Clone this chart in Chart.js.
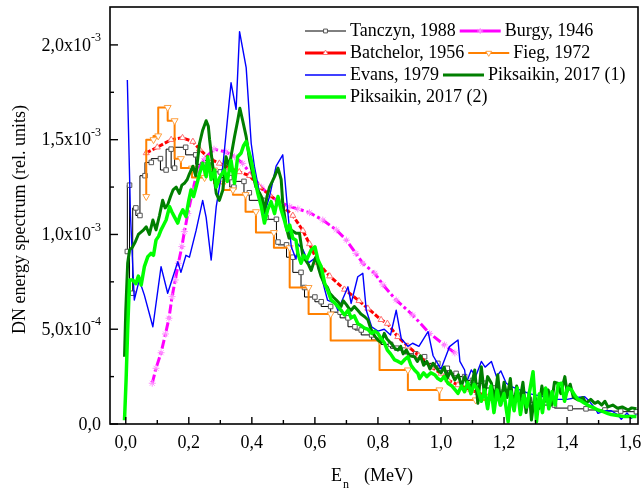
<!DOCTYPE html>
<html>
<head>
<meta charset="utf-8">
<script src="https://cdn.jsdelivr.net/npm/chart.js@4.4.1/dist/chart.umd.min.js"></script>
<style>
  html, body { margin: 0; padding: 0; background: #fff; }
</style>
</head>
<body>
<canvas id="dnChart" width="644" height="491"></canvas>
<script>
/* ---------------------------------------------------------
 * DN energy spectra: [energy (MeV), value (x 1e-3 rel. units)]
 * ------------------------------------------------------- */
const tanczyn = [
  [0.005,0.91],[0.012,1.26],[0.022,0.69],[0.032,1.14],[0.045,1.10],[0.061,1.31],[0.081,1.38],
  [0.11,1.40],[0.128,1.34],[0.144,1.45],[0.155,1.35],[0.19,1.46],[0.222,1.42],[0.245,1.37],
  [0.27,1.39],[0.30,1.33],[0.33,1.30],[0.343,1.25],[0.375,1.28],[0.392,1.22],[0.435,1.18],
  [0.445,1.09],[0.478,1.08],[0.483,0.96],[0.51,0.945],[0.53,0.88],[0.556,0.80],[0.567,0.72],
  [0.60,0.67],[0.62,0.645],[0.65,0.62],[0.68,0.59],[0.705,0.56],[0.727,0.513],[0.747,0.496],
  [0.78,0.47],[0.81,0.443],[0.84,0.42],[0.86,0.40],[0.885,0.39],[0.92,0.37],[0.948,0.355],
  [0.99,0.32],[1.02,0.294],[1.048,0.267],[1.075,0.25],[1.10,0.23],[1.138,0.215],[1.17,0.19],
  [1.20,0.17],[1.24,0.15],[1.28,0.13],[1.32,0.115],[1.36,0.10],[1.41,0.084],[1.46,0.08],
  [1.52,0.074],[1.57,0.068],[1.62,0.065]
];

const burgy = [
  [0.084,0.215],[0.096,0.294],[0.112,0.376],[0.126,0.475],[0.137,0.558],[0.147,0.672],
  [0.157,0.76],[0.167,0.848],[0.178,0.936],[0.186,1.015],[0.197,1.11],[0.213,1.235],
  [0.228,1.34],[0.25,1.40],[0.28,1.45],[0.318,1.435],[0.345,1.41],[0.371,1.375],[0.40,1.31],
  [0.43,1.25],[0.46,1.20],[0.49,1.17],[0.52,1.147],[0.546,1.135],[0.583,1.115],[0.625,1.076],
  [0.668,1.024],[0.70,0.97],[0.73,0.90],[0.752,0.848],[0.79,0.795],[0.816,0.734],[0.858,0.654],
  [0.91,0.575],[0.964,0.478],[1.011,0.417],[1.044,0.375]
];

const batchelor = [
  [0.065,1.43],[0.10,1.46],[0.144,1.50],[0.18,1.51],[0.213,1.49],[0.234,1.45],[0.266,1.40],
  [0.297,1.375],[0.33,1.35],[0.36,1.33],[0.393,1.31],[0.424,1.25],[0.456,1.21],[0.49,1.16],
  [0.53,1.10],[0.562,1.02],[0.583,0.95],[0.61,0.85],[0.647,0.78],[0.694,0.71],[0.74,0.65],
  [0.768,0.61],[0.81,0.55],[0.83,0.53],[0.863,0.46],[0.895,0.41],[0.93,0.36],[0.97,0.30],
  [1.0,0.267],[1.022,0.232],[1.054,0.206],[1.095,0.18],[1.117,0.165],[1.15,0.144],[1.19,0.13]
];

const fieg = [
  [0.065,1.20],[0.088,1.50],[0.103,1.52],[0.133,1.67],[0.155,1.60],[0.175,1.40],[0.21,1.35],
  [0.25,1.30],[0.28,1.34],[0.31,1.27],[0.34,1.235],[0.38,1.21],[0.413,1.12],[0.47,1.01],
  [0.52,0.93],[0.58,0.72],[0.65,0.58],[0.805,0.44],[0.895,0.285],[0.995,0.18],[1.11,0.127],
  [1.19,0.127]
];

const evans = [
  [0.005,1.815],[0.015,1.10],[0.027,0.654],[0.043,0.76],[0.059,0.68],[0.086,0.513],[0.112,0.83],
  [0.133,0.69],[0.165,0.856],[0.175,0.80],[0.191,0.89],[0.202,0.88],[0.223,1.02],[0.244,1.18],
  [0.255,1.09],[0.271,0.865],[0.287,1.147],[0.308,1.36],[0.334,1.80],[0.35,1.66],[0.361,2.07],
  [0.382,1.88],[0.398,1.48],[0.408,1.36],[0.424,1.22],[0.44,1.11],[0.456,1.20],[0.477,1.36],
  [0.498,1.42],[0.514,1.12],[0.525,0.935],[0.54,0.87],[0.546,0.95],[0.562,0.92],[0.58,0.85],
  [0.604,0.88],[0.62,0.78],[0.64,0.654],[0.663,0.636],[0.673,0.60],[0.705,0.724],[0.715,0.636],
  [0.736,0.777],[0.752,0.795],[0.763,0.60],[0.78,0.513],[0.80,0.49],[0.82,0.50],[0.84,0.47],
  [0.858,0.60],[0.874,0.45],[0.895,0.41],[0.91,0.426],[0.93,0.41],[0.959,0.487],[0.975,0.36],
  [1.0,0.29],[1.027,0.408],[1.054,0.443],[1.06,0.33],[1.075,0.285],[1.08,0.215],[1.096,0.285],
  [1.11,0.25],[1.128,0.33],[1.14,0.30],[1.16,0.33],[1.176,0.25],[1.19,0.28],[1.207,0.215],
  [1.224,0.197],[1.25,0.18],[1.28,0.16],[1.31,0.15],[1.33,0.144],[1.36,0.13],[1.40,0.13],
  [1.43,0.14],[1.456,0.144],[1.467,0.127],[1.49,0.08],[1.498,0.056],[1.52,0.07],[1.54,0.07],
  [1.56,0.05],[1.572,0.025],[1.59,0.058],[1.604,0.03],[1.62,0.05]
];

const piksaikin1 = [
  [-0.004,0.355],[0.0,0.60],[0.006,0.848],[0.012,0.918],[0.02,0.93],[0.03,0.96],[0.04,1.00],
  [0.054,1.02],[0.065,1.04],[0.075,1.00],[0.086,1.076],[0.096,1.024],[0.107,1.10],[0.117,1.18],
  [0.125,1.14],[0.133,1.156],[0.142,1.20],[0.15,1.235],[0.16,1.25],[0.17,1.217],[0.178,1.26],
  [0.186,1.27],[0.195,1.29],[0.202,1.32],[0.213,1.36],[0.222,1.31],[0.234,1.48],[0.244,1.55],
  [0.255,1.60],[0.262,1.57],[0.266,1.50],[0.276,1.36],[0.287,1.217],[0.297,1.18],[0.308,1.235],
  [0.318,1.41],[0.328,1.36],[0.338,1.45],[0.345,1.516],[0.355,1.60],[0.362,1.666],[0.371,1.60],
  [0.382,1.516],[0.393,1.39],[0.403,1.32],[0.413,1.25],[0.424,1.22],[0.433,1.19],[0.44,1.12],
  [0.448,1.20],[0.456,1.25],[0.465,1.28],[0.472,1.305],[0.483,1.35],[0.493,1.29],[0.498,1.165],
  [0.509,1.04],[0.518,0.98],[0.528,1.02],[0.54,1.006],[0.551,1.006],[0.562,0.883],[0.572,0.86],
  [0.58,0.84],[0.588,0.81],[0.596,0.85],[0.604,0.883],[0.612,0.82],[0.62,0.777],[0.63,0.74],
  [0.64,0.72],[0.647,0.69],[0.658,0.67],[0.668,0.654],[0.676,0.64],[0.683,0.62],[0.69,0.65],
  [0.70,0.63],[0.708,0.61],[0.715,0.60],[0.725,0.62],[0.736,0.60],[0.746,0.58],[0.758,0.566],
  [0.768,0.55],[0.778,0.50],[0.784,0.478],[0.792,0.46],[0.80,0.443],[0.81,0.43],[0.82,0.478],
  [0.828,0.45],[0.837,0.434],[0.845,0.42],[0.853,0.40],[0.863,0.39],[0.872,0.41],[0.88,0.37],
  [0.89,0.39],[0.90,0.36],[0.916,0.355],[0.925,0.33],[0.935,0.36],[0.945,0.31],[0.955,0.33],
  [0.965,0.29],[0.975,0.32],[0.99,0.285],[1.0,0.27],[1.01,0.30],[1.02,0.24],[1.03,0.28],
  [1.044,0.232],[1.055,0.26],[1.065,0.20],[1.075,0.25],[1.085,0.21],[1.096,0.197],[1.107,0.285],
  [1.117,0.109],[1.128,0.302],[1.138,0.15],[1.148,0.25],[1.16,0.215],[1.17,0.12],[1.18,0.26],
  [1.19,0.10],[1.20,0.22],[1.21,0.14],[1.22,0.24],[1.23,0.08],[1.24,0.20],[1.25,0.12],
  [1.26,0.22],[1.27,0.06],[1.28,0.17],[1.287,0.021],[1.297,0.15],[1.31,0.08],[1.32,0.20],
  [1.33,0.12],[1.34,0.18],[1.35,0.10],[1.36,0.22],[1.37,0.215],[1.38,0.16],[1.393,0.25],
  [1.40,0.17],[1.41,0.21],[1.42,0.14],[1.435,0.127],[1.45,0.14],[1.46,0.11],[1.475,0.13],
  [1.488,0.109],[1.498,0.118],[1.51,0.10],[1.52,0.12],[1.53,0.09],[1.545,0.10],[1.56,0.083],
  [1.575,0.09],[1.594,0.074],[1.605,0.085],[1.62,0.08]
];

const piksaikin2 = [
  [-0.004,0.02],[0.001,0.23],[0.006,0.496],[0.012,0.76],[0.022,0.76],[0.032,0.74],[0.04,0.78],
  [0.049,0.733],[0.059,0.83],[0.07,0.883],[0.08,0.90],[0.088,0.89],[0.096,0.97],[0.104,0.99],
  [0.112,1.024],[0.12,1.05],[0.128,1.076],[0.139,1.147],[0.146,1.12],[0.154,1.094],[0.165,1.06],
  [0.172,1.10],[0.181,1.13],[0.191,1.094],[0.20,1.18],[0.207,1.235],[0.215,1.20],[0.223,1.25],
  [0.234,1.32],[0.244,1.375],[0.255,1.305],[0.26,1.41],[0.271,1.29],[0.282,1.34],[0.287,1.25],
  [0.298,1.30],[0.313,1.34],[0.322,1.28],[0.334,1.39],[0.345,1.27],[0.355,1.41],[0.366,1.43],
  [0.374,1.47],[0.382,1.49],[0.39,1.44],[0.398,1.39],[0.408,1.305],[0.419,1.217],[0.43,1.147],
  [0.44,1.06],[0.45,1.13],[0.461,1.173],[0.472,1.11],[0.483,1.20],[0.493,1.13],[0.503,1.076],
  [0.512,1.02],[0.52,1.05],[0.53,0.98],[0.54,0.97],[0.546,0.90],[0.556,0.848],[0.565,0.89],
  [0.575,0.87],[0.588,0.918],[0.60,0.935],[0.61,0.865],[0.62,0.83],[0.631,0.742],[0.642,0.70],
  [0.652,0.654],[0.662,0.64],[0.673,0.62],[0.683,0.60],[0.694,0.575],[0.705,0.60],[0.715,0.56],
  [0.725,0.57],[0.736,0.53],[0.746,0.52],[0.758,0.505],[0.768,0.50],[0.78,0.478],[0.79,0.49],
  [0.80,0.478],[0.81,0.45],[0.82,0.43],[0.83,0.39],[0.84,0.37],[0.853,0.338],[0.864,0.33],
  [0.874,0.32],[0.885,0.34],[0.895,0.355],[0.905,0.31],[0.916,0.285],[0.927,0.267],[0.932,0.24],
  [0.945,0.27],[0.955,0.25],[0.968,0.27],[0.98,0.26],[0.99,0.24],[1.0,0.23],[1.01,0.25],
  [1.022,0.215],[1.035,0.20],[1.045,0.18],[1.054,0.162],[1.065,0.20],[1.075,0.17],[1.085,0.22],
  [1.095,0.16],[1.105,0.21],[1.117,0.18],[1.128,0.12],[1.138,0.18],[1.148,0.08],[1.158,0.20],
  [1.168,0.06],[1.178,0.18],[1.188,0.10],[1.20,0.16],[1.213,0.012],[1.222,0.17],[1.232,0.07],
  [1.242,0.19],[1.252,0.05],[1.262,0.15],[1.272,0.09],[1.282,0.18],[1.292,0.276],[1.303,0.012],
  [1.312,0.16],[1.322,0.06],[1.332,0.19],[1.342,0.08],[1.352,0.17],[1.362,0.10],[1.372,0.21],
  [1.382,0.215],[1.392,0.12],[1.402,0.19],[1.414,0.18],[1.425,0.15],[1.435,0.13],[1.446,0.12],
  [1.456,0.109],[1.47,0.095],[1.485,0.085],[1.498,0.074],[1.515,0.065],[1.53,0.055],[1.54,0.05],
  [1.56,0.045],[1.583,0.039],[1.60,0.04],[1.62,0.039]
];

// axis ranges
const xRange = [-0.05, 1.625];
const yRange = [0, 2.2];
const yUnitExp = -3;   // stored values are in units of 10^-3

/* ---------------------------------------------------------
 * Series appearance
 * ------------------------------------------------------- */
const series = [
  { label: "Tanczyn, 1988", data: tanczyn, color: "#000000", width: 1, stepped: "after",
    point: "rect", pointRadius: 3.2, pointColor: "#555555", pointRotation: 0 },
  { label: "Burgy, 1946", data: burgy, color: "#ff00ff", width: 3, dash: [9, 3, 3, 3],
    point: "star", pointRadius: 3.5, pointColor: "#ff90ff", pointRotation: 0 },
  { label: "Batchelor, 1956", data: batchelor, color: "#ff0000", width: 3, dash: [5, 2],
    point: "triangle", pointRadius: 3.5, pointColor: "#ff7070", pointRotation: 0 },
  { label: "Fieg, 1972", data: fieg, color: "#ff8000", width: 2, stepped: "after",
    point: "triangle", pointRadius: 4, pointColor: "#ffa040", pointRotation: 180 },
  { label: "Evans, 1979", data: evans, color: "#0000ff", width: 1.4 },
  { label: "Piksaikin, 2017 (1)", data: piksaikin1, color: "#007f00", width: 3 },
  { label: "Piksaikin, 2017 (2)", data: piksaikin2, color: "#00ff00", width: 3.5 }
];

// legend rows, by series index
const legendRows = [[0, 1], [2, 3], [4, 5], [6]];

const FONT = "Liberation Serif";

/* ---------------------------------------------------------
 * Axes, tick marks, tick labels, titles and legend
 * ------------------------------------------------------- */
function isStep(v, step) {
  const k = v / step;
  return Math.abs(k - Math.round(k)) < 1e-6;
}

function yTickText(v) {
  if (Math.abs(v) < 1e-9) return ["0,0", ""];
  const real = v * Math.pow(10, yUnitExp);
  const exp = Math.floor(Math.log10(real) + 1e-9);
  const mant = real / Math.pow(10, exp);
  return [mant.toFixed(1).replace(".", ",") + "x10", String(exp)];
}

const framePlugin = {
  id: "framePlugin",
  afterDraw(chart) {
    const { ctx, chartArea: a, scales: { x, y } } = chart;
    ctx.save();

    // plot frame
    ctx.strokeStyle = "#000";
    ctx.lineWidth = 1.6;
    ctx.strokeRect(a.left, a.top, a.right - a.left, a.bottom - a.top);

    // inward ticks + labels on x
    ctx.lineWidth = 1.4;
    ctx.fillStyle = "#000";
    ctx.font = `18px "${FONT}"`;
    ctx.textAlign = "center";
    ctx.textBaseline = "middle";
    x.ticks.forEach(t => {
      if (t.value < x.min || t.value > x.max || !isStep(t.value, 0.1)) return;
      const px = x.getPixelForValue(t.value);
      const major = isStep(t.value, 0.2);
      ctx.beginPath();
      ctx.moveTo(px, a.bottom);
      ctx.lineTo(px, a.bottom - (major ? 7 : 4));
      ctx.stroke();
      if (major) ctx.fillText(t.value.toFixed(1).replace(".", ","), px, a.bottom + 19);
    });

    // inward ticks + labels on y
    y.ticks.forEach(t => {
      if (t.value < y.min || t.value > y.max || !isStep(t.value, 0.25)) return;
      const py = y.getPixelForValue(t.value);
      const major = isStep(t.value, 0.5);
      ctx.beginPath();
      ctx.moveTo(a.left, py);
      ctx.lineTo(a.left + (major ? 8 : 4), py);
      ctx.stroke();
      if (!major) return;
      const [main, sup] = yTickText(t.value);
      const right = a.left - 9;
      ctx.textAlign = "right";
      ctx.font = `12px "${FONT}"`;
      const supW = sup ? ctx.measureText(sup).width : 0;
      if (sup) ctx.fillText(sup, right, py - 7);
      ctx.font = `18px "${FONT}"`;
      ctx.fillText(main, right - supW, py + 1);
    });

    // x title: E_n (MeV)
    const cx = (a.left + a.right) / 2;
    ctx.textAlign = "left";
    ctx.font = `18px "${FONT}"`;
    const tx = cx - 43;
    ctx.fillText("E", tx, 476);
    const eW = ctx.measureText("E").width;
    ctx.font = `12px "${FONT}"`;
    ctx.fillText("n", tx + eW + 1, 485);
    ctx.font = `18px "${FONT}"`;
    ctx.fillText("(MeV)", tx + 33, 476);

    // y title
    ctx.save();
    ctx.translate(20, (a.top + a.bottom) / 2 + 4);
    ctx.rotate(-Math.PI / 2);
    ctx.textAlign = "center";
    ctx.font = `18px "${FONT}"`;
    ctx.fillText("DN energy spectrum (rel. units)", 0, 0);
    ctx.restore();

    // legend
    ctx.font = `18px "${FONT}"`;
    ctx.textAlign = "left";
    legendRows.forEach((row, r) => {
      let lx = 305;
      const ly = 31 + r * 22;
      row.forEach(i => {
        const s = series[i];
        ctx.save();
        ctx.strokeStyle = s.color;
        ctx.lineWidth = s.width;
        ctx.beginPath();
        ctx.moveTo(lx, ly);
        ctx.lineTo(lx + 41, ly);
        ctx.stroke();
        if (s.point) {
          ctx.strokeStyle = s.pointColor;
          ctx.fillStyle = "#fff";
          ctx.lineWidth = 1;
          Chart.helpers.drawPoint(ctx, {
            pointStyle: s.point, radius: s.pointRadius * 0.85,
            rotation: s.pointRotation, borderWidth: 1
          }, lx + 20.5, ly);
        }
        ctx.restore();
        ctx.fillStyle = "#000";
        ctx.fillText(s.label, lx + 45, ly);
        lx += 45 + ctx.measureText(s.label).width + 4;
      });
    });

    ctx.restore();
  }
};

/* ---------------------------------------------------------
 * Chart
 * ------------------------------------------------------- */
const datasets = series.map((s, i) => ({
  label: s.label,
  data: s.data.map(([e, v]) => ({ x: e, y: v })),
  borderColor: s.color,
  borderWidth: s.width,
  borderDash: s.dash || [],
  stepped: s.stepped || false,
  tension: 0,
  borderJoinStyle: "round",
  pointStyle: s.point || "circle",
  pointRadius: s.point ? s.pointRadius : 0,
  pointRotation: s.pointRotation || 0,
  pointBorderColor: s.pointColor || s.color,
  pointBackgroundColor: "#ffffff",
  pointBorderWidth: 1,
  order: series.length - i,
  fill: false
}));

new Chart(document.getElementById("dnChart"), {
  type: "line",
  data: { datasets },
  options: {
    responsive: false,
    animation: false,
    devicePixelRatio: 1,
    layout: { padding: { top: 7, right: 6, left: 0, bottom: 0 } },
    plugins: { legend: { display: false }, tooltip: { enabled: false } },
    scales: {
      x: {
        type: "linear",
        min: xRange[0], max: xRange[1],
        ticks: { display: false, stepSize: 0.1, includeBounds: false },
        grid: { display: false },
        border: { display: false },
        afterFit: s => { s.height = 67; }
      },
      y: {
        type: "linear",
        min: yRange[0], max: yRange[1],
        ticks: { display: false, stepSize: 0.25, includeBounds: false },
        grid: { display: false },
        border: { display: false },
        afterFit: s => { s.width = 110; }
      }
    }
  },
  plugins: [framePlugin]
});
</script>
</body>
</html>
